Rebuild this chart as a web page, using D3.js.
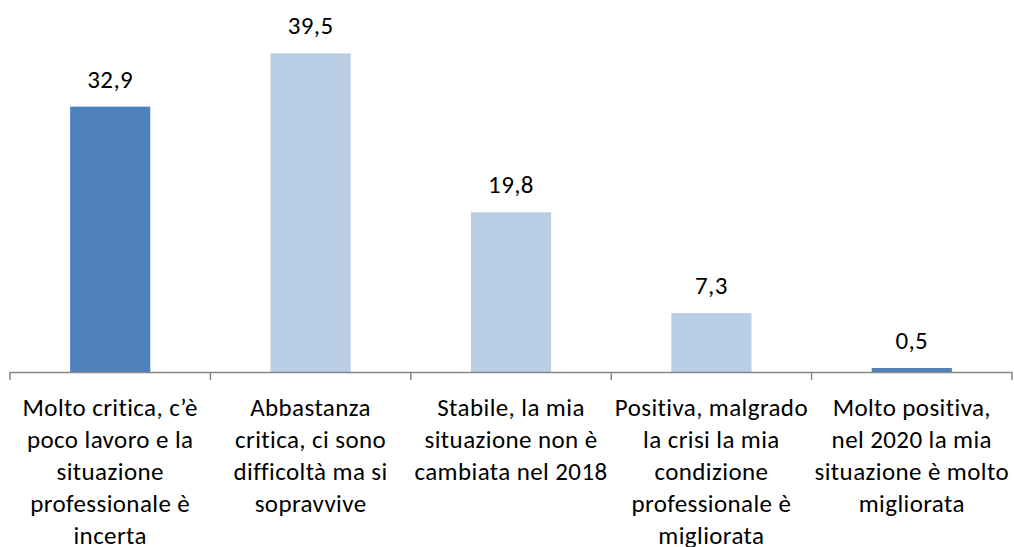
<!DOCTYPE html>
<html>
<head>
<meta charset="utf-8">
<script src="https://cdn.jsdelivr.net/npm/d3@7.9.0/dist/d3.min.js"></script>
<style>
  body { margin: 0; background: #fff; }
  svg text { font-family: Carlito, Lato, "Liberation Sans", sans-serif; fill: #000; letter-spacing: 0.4px; }
</style>
</head>
<body>
<svg id="chart" width="1014" height="547"></svg>
<script>
// data
const categories = ['c1', 'c2', 'c3', 'c4', 'c5'];
const values = [32.9, 39.5, 19.8, 7.3, 0.5];
const valueLabels = ['32,9', '39,5', '19,8', '7,3', '0,5'];
const tickLabels = [
    ['Molto critica, c\u2019è', 'poco lavoro e la', 'situazione', 'professionale è', 'incerta'],
    ['Abbastanza', 'critica, ci sono', 'difficoltà ma si', 'sopravvive'],
    ['Stabile, la mia', 'situazione non è', 'cambiata nel 2018'],
    ['Positiva, malgrado', 'la crisi la mia', 'condizione', 'professionale è', 'migliorata'],
    ['Molto positiva,', 'nel 2020 la mia', 'situazione è molto', 'migliorata']
];
const barColors = ['#4F81BD', '#B9CDE5', '#B9CDE5', '#B9CDE5', '#4F81BD'];

const svg = d3.select('#chart');

const x = d3.scaleBand()
    .domain(categories)
    .range([10, 1012])
    .padding(0);

const y = d3.scaleLinear()
    .domain([0, 45])
    .range([372, 9]);

const barW = x.bandwidth() * 0.4;

// bars
svg.selectAll('rect.bar')
    .data(values)
    .join('rect')
    .attr('class', 'bar')
    .attr('x', (d, i) => x(categories[i]) + (x.bandwidth() - barW) / 2)
    .attr('y', d => y(d))
    .attr('width', barW)
    .attr('height', d => y(0) - y(d))
    .attr('fill', (d, i) => barColors[i]);

// value labels
svg.selectAll('text.val')
    .data(values)
    .join('text')
    .attr('class', 'val')
    .attr('x', (d, i) => x(categories[i]) + x.bandwidth() / 2)
    .attr('y', d => y(d) - 19)
    .attr('text-anchor', 'middle')
    .attr('font-size', 25)
    .text((d, i) => valueLabels[i]);

// x axis line + ticks at category boundaries
const axis = svg.append('g').attr('stroke', '#868686').attr('stroke-width', 1.5);
axis.append('line')
    .attr('x1', 10).attr('x2', 1012)
    .attr('y1', y(0) + 0.5).attr('y2', y(0) + 0.5);
const bounds = categories.map(c => x(c)).concat([x.range()[1]]);
axis.selectAll('line.tick')
    .data(bounds)
    .join('line')
    .attr('class', 'tick')
    .attr('x1', d => d).attr('x2', d => d)
    .attr('y1', y(0)).attr('y2', y(0) + 8);

// category labels
tickLabels.forEach((lines, i) => {
    const t = svg.append('text')
        .attr('text-anchor', 'middle')
        .attr('font-size', 25);
    lines.forEach((ln, j) => {
        t.append('tspan')
            .attr('x', x(categories[i]) + x.bandwidth() / 2)
            .attr('y', 416 + j * 32)
            .text(ln);
    });
});
</script>
</body>
</html>
